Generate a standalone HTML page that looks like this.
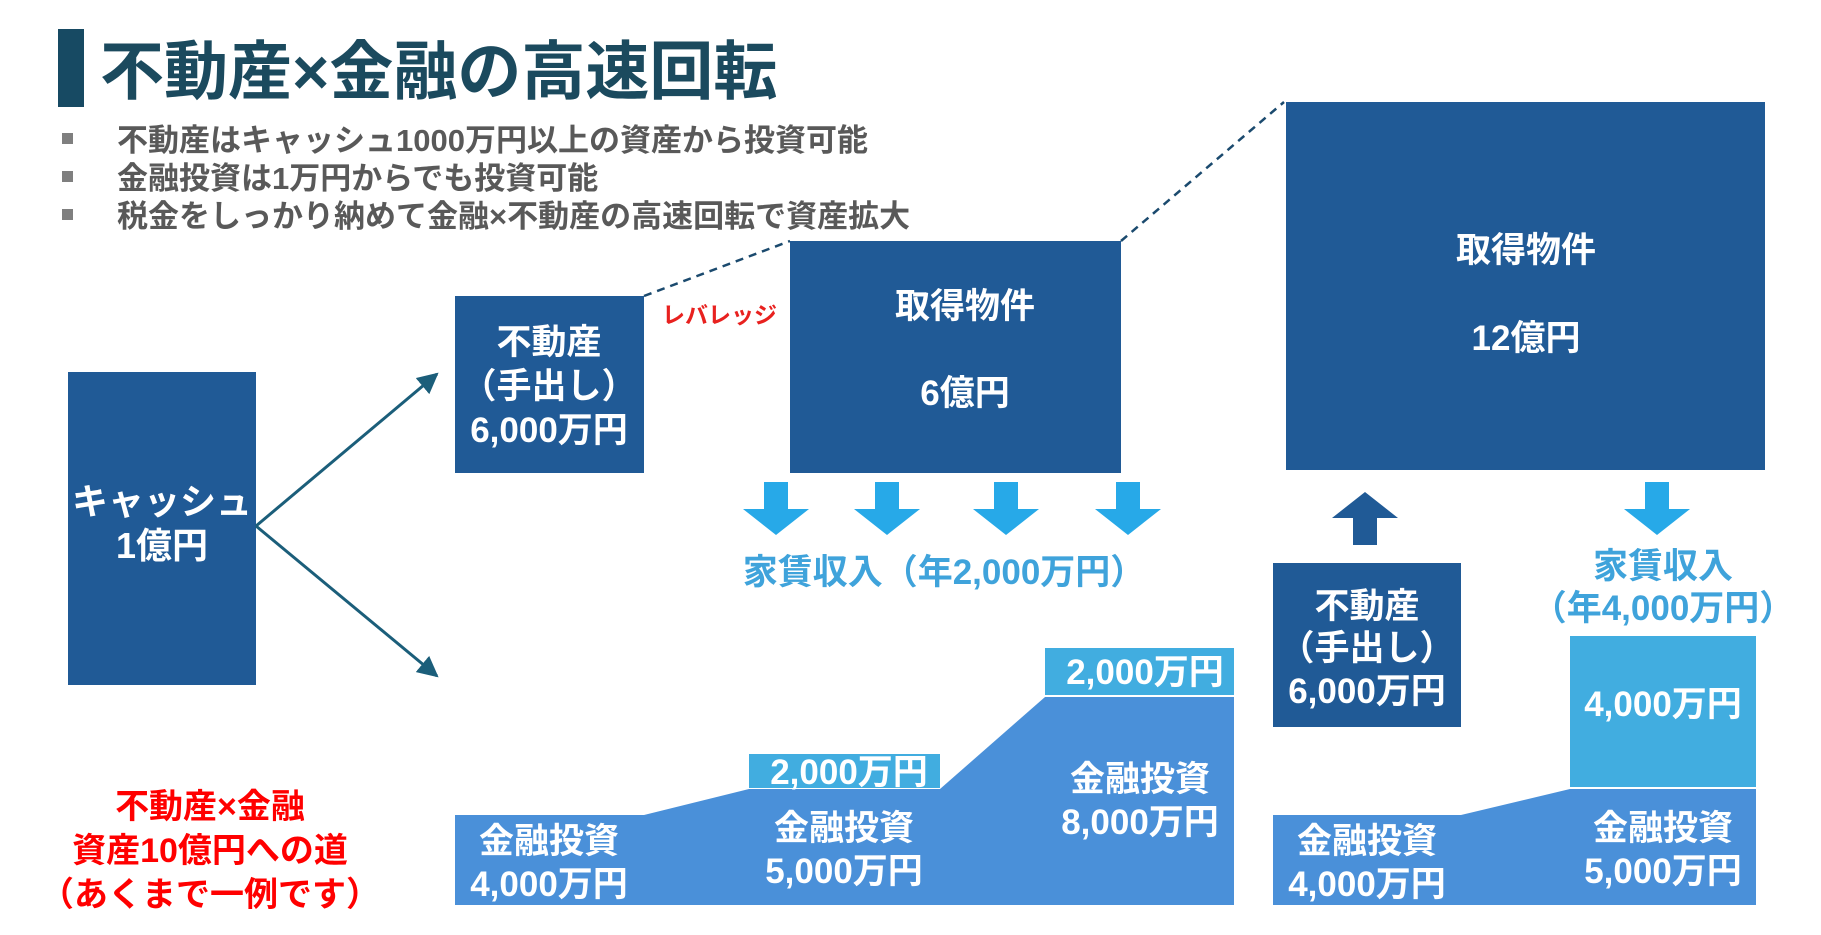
<!DOCTYPE html>
<html><head><meta charset="utf-8"><style>
body{margin:0;background:#fff}
svg{display:block}
text{font-family:"Liberation Sans","Noto Sans CJK JP",sans-serif;font-weight:bold}
</style></head><body>
<svg width="1821" height="935" viewBox="0 0 1821 935" xmlns="http://www.w3.org/2000/svg">
<defs>
<marker id="ah" viewBox="0 0 10 10" refX="9" refY="5" markerWidth="7" markerHeight="7" orient="auto"><path d="M0,0L10,5L0,10z" fill="#1b5e7a"/></marker>
</defs>
<rect x="58" y="29" width="26" height="78" fill="#174a63"/>
<text x="100" y="94" font-size="64" fill="#1b4a5e">不動産×金融の高速回転</text>
<g font-size="31" fill="#595959">
<rect x="62" y="133" width="11" height="11" fill="#7f7f7f"/>
<rect x="62" y="171" width="11" height="11" fill="#7f7f7f"/>
<rect x="62" y="209" width="11" height="11" fill="#7f7f7f"/>
<text x="117" y="151">不動産はキャッシュ1000万円以上の資産から投資可能</text>
<text x="117" y="189">金融投資は1万円からでも投資可能</text>
<text x="117" y="227">税金をしっかり納めて金融×不動産の高速回転で資産拡大</text>
</g>
<rect x="68" y="372" width="188" height="313" fill="#205a96"/>
<g fill="#fff" font-size="36" text-anchor="middle">
<text x="162" y="514">キャッシュ</text><text x="162" y="558">1億円</text></g>
<line x1="256" y1="526" x2="437" y2="374" stroke="#1b5e7a" stroke-width="3" marker-end="url(#ah)"/>
<line x1="256" y1="526" x2="437" y2="676" stroke="#1b5e7a" stroke-width="3" marker-end="url(#ah)"/>
<line x1="644" y1="296" x2="790" y2="241" stroke="#1b4a6e" stroke-width="2.5" stroke-dasharray="8,6"/>
<line x1="1121" y1="241" x2="1284" y2="102" stroke="#1b4a6e" stroke-width="2.5" stroke-dasharray="8,6"/>
<rect x="455" y="296" width="189" height="177" fill="#205a96"/>
<rect x="790" y="241" width="331" height="232" fill="#205a96"/>
<rect x="1286" y="102" width="479" height="368" fill="#205a96"/>
<rect x="1273" y="563" width="188" height="164" fill="#205a96"/>
<g fill="#fff" font-size="35" text-anchor="middle">
<text x="549" y="354">不動産</text><text x="549" y="398">（手出し）</text><text x="549" y="442">6,000万円</text>
<text x="965" y="318">取得物件</text><text x="965" y="405">6億円</text>
<text x="1526" y="262">取得物件</text><text x="1526" y="350">12億円</text>
<text x="1367" y="618">不動産</text><text x="1367" y="660">（手出し）</text><text x="1367" y="703">6,000万円</text>
</g>
<text x="662" y="323" font-size="23" fill="#e8211f">レバレッジ</text>
<g fill="#27a9e8">
<path id="da" d="M-12,0h24v27h21l-33,26l-33,-26h21z" transform="translate(776,482)"/>
<use href="#da" x="111"/><use href="#da" x="230"/><use href="#da" x="352"/><use href="#da" x="881"/>
</g>
<path d="M-12,53h24v-27h21l-33,-26l-33,26h21z" transform="translate(1365,492)" fill="#205a96"/>
<g fill="#3fa3db" font-size="35" text-anchor="middle">
<text x="944" y="584">家賃収入（年2,000万円）</text>
<text x="1663" y="578">家賃収入</text><text x="1663" y="620">（年4,000万円）</text>
</g>
<g fill="#4a90d9">
<rect x="455" y="815" width="189" height="90"/>
<path d="M644,815L749,789V905H644z"/>
<rect x="749" y="789" width="191" height="116"/>
<path d="M940,789L1045,697V905H940z"/>
<rect x="1045" y="697" width="189" height="208"/>
<rect x="1273" y="815" width="188" height="90"/>
<path d="M1461,815L1570,789V905H1461z"/>
<rect x="1570" y="789" width="186" height="116"/>
</g>
<g fill="#41ade0">
<rect x="749" y="754" width="191" height="34"/>
<rect x="1045" y="648" width="189" height="47"/>
<rect x="1570" y="636" width="186" height="151"/>
</g>
<g fill="#fff" font-size="35" text-anchor="middle">
<text x="549" y="853">金融投資</text><text x="549" y="896">4,000万円</text>
<text x="844" y="840">金融投資</text><text x="844" y="883">5,000万円</text>
<text x="1140" y="791">金融投資</text><text x="1140" y="834">8,000万円</text>
<text x="1367" y="853">金融投資</text><text x="1367" y="896">4,000万円</text>
<text x="1663" y="840">金融投資</text><text x="1663" y="883">5,000万円</text>
<text x="849" y="784">2,000万円</text>
<text x="1145" y="684">2,000万円</text>
<text x="1663" y="716">4,000万円</text>
</g>
<g fill="#f00" font-size="34" text-anchor="middle">
<text x="210" y="818">不動産×金融</text><text x="210" y="862">資産10億円への道</text><text x="210" y="906">（あくまで一例です）</text>
</g>
</svg>
</body></html>
